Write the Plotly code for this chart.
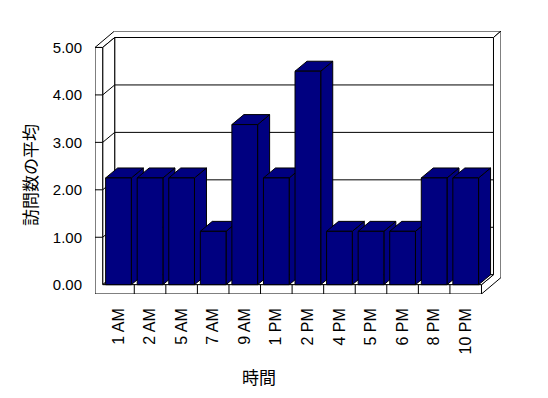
import plotly.graph_objects as go

# ---- data ----
categories = ["1 AM", "2 AM", "5 AM", "7 AM", "9 AM", "1 PM",
              "2 PM", "4 PM", "5 PM", "6 PM", "8 PM", "10 PM"]
values = [2.25, 2.25, 2.25, 1.125, 3.375, 2.25,
          4.5, 1.125, 1.125, 1.125, 2.25, 2.25]
y_ticks = [0, 1, 2, 3, 4, 5]
x_title = "時間"
y_title = "訪問数の平均"

# ---- style / geometry (in axis units) ----
NAVY = "#000080"
DX, DY = 0.38, 0.21      # depth offset of the 3D box
TX, TY = 0.238, 0.137    # back-wall thickness
WX = 0.244               # left-wall thickness
FY = 0.196               # floor thickness
BW = 0.815               # bar width
n = len(categories)
X0, X1 = -0.5, n - 0.5
VTOP = max(y_ticks)

OFF = 8  # default body margin of the html page
W, H = 548 - OFF, 398 - OFF
ML, MR, MT, MB = 95 - OFF, 47, 31 - OFF, 104

shapes = []


def _p(pts, close=True):
    s = "M " + " L ".join(f"{x:.4f},{y:.4f}" for x, y in pts)
    return s + (" Z" if close else "")


def poly(pts, fill="white"):
    shapes.append(dict(type="path", path=_p(pts), xref="x", yref="y",
                       fillcolor=fill, line=dict(color="black", width=1),
                       layer="below"))


def seg(pts):
    shapes.append(dict(type="path", path=_p(pts, close=False), xref="x",
                       yref="y", line=dict(color="black", width=1),
                       layer="below"))


# back wall face
poly([(X0 + DX, DY), (X1 + DX, DY), (X1 + DX, VTOP + DY), (X0 + DX, VTOP + DY)])
for v in y_ticks[1:-1]:
    seg([(X0 + DX, v + DY), (X1 + DX, v + DY)])
# top band of left + back walls
poly([(X0 - WX, VTOP), (X0, VTOP), (X0 + DX, VTOP + DY), (X1 + DX, VTOP + DY),
      (X1 + DX + TX, VTOP + DY + TY), (X0 - WX + DX + TX, VTOP + DY + TY)])
# right side of back wall + floor
poly([(X1 + DX, VTOP + DY), (X1 + DX + TX, VTOP + DY + TY),
      (X1 + DX + TX, -FY + DY + TY), (X1, -FY), (X1, 0), (X1 + DX, DY)])
# left wall inner face
poly([(X0, 0), (X0 + DX, DY), (X0 + DX, VTOP + DY), (X0, VTOP)])
for v in y_ticks[1:-1]:
    seg([(X0, v), (X0 + DX, v + DY)])
# floor top
poly([(X0, 0), (X1, 0), (X1 + DX, DY), (X0 + DX, DY)])
# front L (left wall front + floor front)
poly([(X0 - WX, VTOP), (X0, VTOP), (X0, 0), (X1, 0), (X1, -FY), (X0 - WX, -FY)])
for v in y_ticks[1:-1]:
    seg([(X0 - WX, v), (X0, v)])
for i in range(n - 1):
    seg([(i + 0.5, 0), (i + 0.5, -FY)])

# bar side and top faces
for i, v in enumerate(values):
    xl, xr = i - BW / 2, i + BW / 2
    poly([(xr, 0), (xr + DX, DY), (xr + DX, v + DY), (xr, v)], fill=NAVY)
    poly([(xl, v), (xr, v), (xr + DX, v + DY), (xl + DX, v + DY)], fill=NAVY)

fig = go.Figure()
fig.add_trace(go.Bar(
    x=list(range(n)), y=values, width=BW,
    marker=dict(color=NAVY, line=dict(color="black", width=1)),
    hoverinfo="skip", showlegend=False,
))

font_family = "Liberation Sans, Arial, sans-serif"
cjk = "Noto Sans CJK JP, sans-serif"

pw = W - ML - MR
ph = H - MT - MB


def px(x, y):
    # page pixel -> paper coordinates
    return (x - OFF - ML) / pw, (H - MB - (y - OFF)) / ph


ax_x, ax_y = px(259, 376)
ay_x, ay_y = px(29, 175)

fig.update_layout(
    width=W, height=H,
    margin=dict(l=ML, r=MR, t=MT, b=MB, pad=0, autoexpand=False),
    paper_bgcolor="white", plot_bgcolor="white",
    shapes=shapes,
    xaxis=dict(range=[X0 - WX, X1 + DX + TX], tickmode="array",
               tickvals=list(range(n)), ticktext=categories, tickangle=-90,
               showgrid=False, zeroline=False, showline=False, ticks="",
               tickfont=dict(family=font_family, size=16, color="black"),
               ticklabelstandoff=10, fixedrange=True, automargin=False),
    yaxis=dict(range=[-FY, VTOP + DY + TY], tickmode="array",
               tickvals=y_ticks, tickformat=".2f",
               showgrid=False, zeroline=False, showline=False, ticks="",
               tickfont=dict(family=font_family, size=15, color="black"),
               ticklabelstandoff=12, fixedrange=True, automargin=False),
    annotations=[
        dict(text=x_title, xref="paper", yref="paper", x=ax_x, y=ax_y,
             xanchor="center", yanchor="middle", showarrow=False,
             font=dict(family=cjk, size=17, color="black")),
        dict(text=y_title, xref="paper", yref="paper", x=ay_x, y=ay_y,
             xanchor="center", yanchor="middle", showarrow=False, textangle=-90,
             font=dict(family=cjk, size=17, color="black")),
    ],
    showlegend=False,
)

fig.write_html("out.html")
